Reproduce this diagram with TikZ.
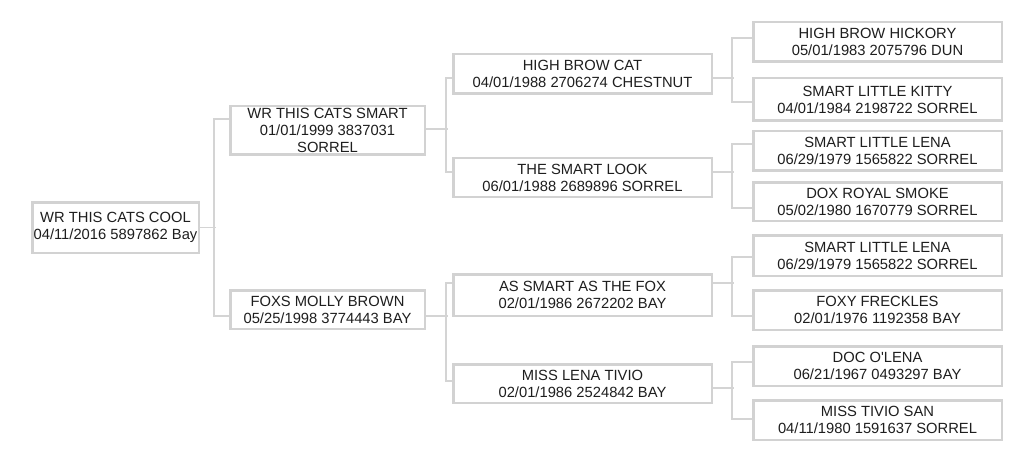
\documentclass[tikz,border=0pt]{standalone}
\usepackage{fontspec}
\setmainfont{Liberation Sans}
\definecolor{boxgray}{HTML}{D2D2D2}
\definecolor{linegray}{HTML}{D4D4D4}
\definecolor{textgray}{HTML}{1E1E1E}
\begin{document}
\begin{tikzpicture}[x=1pt, y=-1pt,
	horse/.style={draw=boxgray, line width=2.5pt, fill=white, text=textgray, align=center, inner sep=0pt, font=\fontsize{14.75}{17}\selectfont},
	gen0/.style={horse, minimum width=166.5},
	gen1/.style={horse, minimum width=194.5},
	gen2/.style={horse, minimum width=258.5},
	gen3/.style={horse, minimum width=248.5},
	link/.style={draw=linegray, line width=1.2pt}]
		\fill[white] (0,0) rectangle (1024,457);
		\useasboundingbox (0,0) rectangle (1024,457);
		% foal
		\node[gen0, minimum height=50.5](root) at (115.5,227.5){WR THIS CATS COOL\\04/11/2016 5897862 Bay};
		% parents
		\node[gen1, minimum height=48.5](sire) at (327.5,130.5){WR THIS CATS SMART\\01/01/1999 3837031\\SORREL};
		\node[gen1, minimum height=38.5](dam) at (327.5,309.5){FOXS MOLLY BROWN\\05/25/1998 3774443 BAY};
		% grandparents
		\node[gen2, minimum height=39.5](ss) at (582.5,74){HIGH BROW CAT\\04/01/1988 2706274 CHESTNUT};
		\node[gen2, minimum height=38.5](sd) at (582.5,177.5){THE SMART LOOK\\06/01/1988 2689896 SORREL};
		\node[gen2, minimum height=41.5](ds) at (582.5,295){AS SMART AS THE FOX\\02/01/1986 2672202 BAY};
		\node[gen2, minimum height=38.5](dd) at (582.5,383.5){MISS LENA TIVIO\\02/01/1986 2524842 BAY};
		% great grandparents
		\node[gen3, minimum height=39.5](sss) at (877.5,42){HIGH BROW HICKORY\\05/01/1983 2075796 DUN};
		\node[gen3, minimum height=42.5](ssd) at (877.5,99.5){SMART LITTLE KITTY\\04/01/1984 2198722 SORREL};
		\node[gen3, minimum height=39.5](sds) at (877.5,151){SMART LITTLE LENA\\06/29/1979 1565822 SORREL};
		\node[gen3, minimum height=38.5](sdd) at (877.5,201.5){DOX ROYAL SMOKE\\05/02/1980 1670779 SORREL};
		\node[gen3, minimum height=40.5](dss) at (877.5,255.5){SMART LITTLE LENA\\06/29/1979 1565822 SORREL};
		\node[gen3, minimum height=39.5](dsd) at (877.5,310){FOXY FRECKLES\\02/01/1976 1192358 BAY};
		\node[gen3, minimum height=39.5](dds) at (877.5,366){DOC O\textquotesingle LENA\\06/21/1967 0493297 BAY};
		\node[gen3, minimum height=39.5](ddd) at (877.5,420){MISS TIVIO SAN\\04/11/1980 1591637 SORREL};
		% brackets
		\draw[link](root.east) -- ++(16,0);
		\draw[link]([yshift=11.5pt]sire.west) -- ++(-15,0) |- ([yshift=-6.5pt]dam.west);
		\draw[link]([yshift=1.5pt]sire.east) -- ++(22,0);
		\draw[link]([yshift=-4pt]ss.west) -- ++(-6,0) |- ([yshift=5.5pt]sd.west);
		\draw[link]([yshift=-6.5pt]dam.east) -- ++(22,0);
		\draw[link]([yshift=12pt]ds.west) -- ++(-6,0) |- ([yshift=2.5pt]dd.west);
		\draw[link]([yshift=-4pt]ss.east) -- ++(21,0);
		\draw[link]([yshift=4pt]sss.west) -- ++(-20,0) |- ([yshift=-2.5pt]ssd.west);
		\draw[link]([yshift=5.5pt]sd.east) -- ++(21,0);
		\draw[link]([yshift=7pt]sds.west) -- ++(-20,0) |- ([yshift=-6.5pt]sdd.west);
		\draw[link]([yshift=12pt]ds.east) -- ++(21,0);
		\draw[link]([yshift=-1.5pt]dss.west) -- ++(-20,0) |- ([yshift=-6pt]dsd.west);
		\draw[link]([yshift=-4.5pt]dd.east) -- ++(21,0);
		\draw[link]([yshift=4pt]dds.west) -- ++(-20,0) |- ([yshift=1pt]ddd.west);
	\end{tikzpicture}
\end{document}
